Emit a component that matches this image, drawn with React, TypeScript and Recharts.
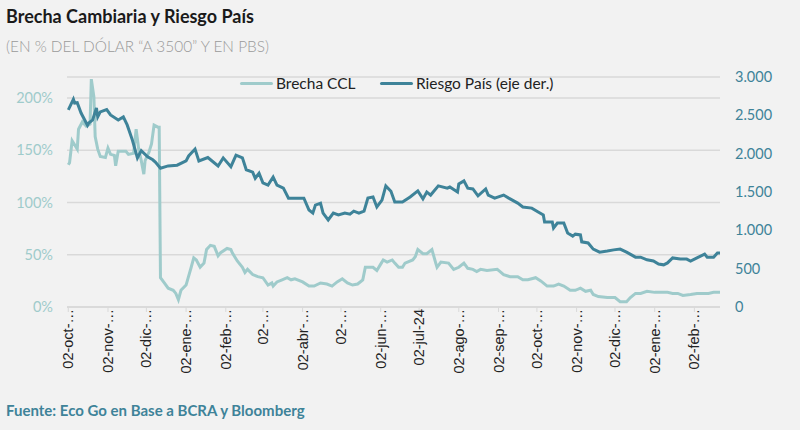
import { LineChart, Line, XAxis, YAxis, CartesianGrid } from "recharts";

// días desde el 02-oct-2023
const diasCCL = [
  0, 1, 3, 6, 7, 8, 11, 14, 17, 18, 20, 21, 23, 25, 29, 31, 33, 36, 37, 39,
  45, 47, 51, 53, 55, 57, 59, 60, 63, 65, 67, 70, 71, 72, 75, 78, 82, 84, 86, 88,
  92, 96, 98, 100, 103, 106, 108, 111, 114, 117, 119, 124, 127, 128, 132, 136, 138, 140, 144, 148,
  152, 156, 159, 160, 163, 167, 171, 174, 177, 183, 188, 192, 197, 202, 206, 210, 214, 218, 222, 226,
  230, 232, 234, 238, 241, 244, 246, 249, 253, 255, 258, 261, 263, 269, 271, 273, 277, 280, 284, 287,
  288, 291, 297, 301, 305, 309, 312, 316, 319, 322, 327, 335, 337, 340, 345, 351, 355, 359, 365, 369,
  374, 379, 383, 387, 392, 396, 400, 404, 408, 410, 414, 421, 427, 431, 436, 439, 443, 447, 452, 458,
  464, 468, 472, 476, 480, 486, 491, 496, 500, 504, 509,
];
// brecha CCL, en %
const brechaCCL = [
  136, 138, 159, 153, 151, 170, 177, 173, 175, 218, 201, 163, 151, 144, 143, 152, 146, 145, 135, 149,
  149, 146, 147, 170, 151, 140, 127, 140, 148, 156, 174, 172, 172, 28, 23, 18, 16, 13, 7, 16,
  21, 38, 47, 45, 38, 42, 55, 59, 58, 49, 52, 56, 55, 52, 44, 38, 33, 36, 31, 29,
  28, 21, 23, 20, 24, 26, 28, 26, 27, 24, 20, 20, 23, 22, 20, 24, 27, 23, 21, 22,
  26, 38, 38, 38, 35, 41, 45, 43, 45, 42, 38, 38, 42, 45, 48, 55, 51, 51, 55, 42,
  38, 43, 42, 36, 38, 42, 37, 36, 34, 36, 35, 36, 34, 31, 29, 29, 26, 26, 28, 25,
  20, 20, 22, 20, 16, 16, 18, 15, 16, 12, 10, 9, 9, 5, 5, 9, 13, 13, 15, 14,
  14, 14, 13, 13, 11, 12, 13, 13, 13, 14, 14,
];

const diasRiesgo = [
  0, 4, 5, 7, 10, 15, 16, 19, 22, 23, 25, 30, 33, 39, 43, 46, 50, 54, 57, 62,
  66, 68, 72, 78, 85, 92, 94, 99, 102, 109, 117, 121, 127, 131, 136, 139, 144, 146, 149, 152,
  156, 160, 163, 168, 172, 184, 188, 191, 193, 197, 199, 203, 207, 211, 216, 220, 223, 227, 231, 234,
  238, 241, 245, 248, 252, 255, 261, 267, 273, 277, 280, 283, 289, 296, 298, 304, 305, 309, 312, 316,
  320, 326, 328, 333, 340, 344, 351, 355, 362, 367, 371, 372, 378, 379, 382, 387, 390, 394, 396, 400,
  401, 406, 410, 415, 421, 426, 431, 436, 443, 447, 452, 457, 461, 465, 468, 472, 478, 483, 486, 491,
  497, 499, 504, 507, 509,
];
// riesgo país, en pbs
const riesgoPais = [
  2570, 2710, 2660, 2665, 2530, 2370, 2400, 2440, 2595, 2480, 2545, 2575, 2505, 2440, 2480, 2375, 2180, 1945, 2040, 1960,
  1920, 1890, 1810, 1840, 1850, 1905, 1970, 2060, 1905, 1950, 1840, 1945, 1830, 1980, 1945, 1790, 1760, 1680, 1745, 1620,
  1590, 1695, 1590, 1550, 1420, 1420, 1265, 1225, 1330, 1355, 1225, 1135, 1225, 1200, 1225, 1210, 1250, 1225, 1250, 1420,
  1435, 1305, 1395, 1580, 1510, 1370, 1370, 1435, 1515, 1410, 1500, 1460, 1580, 1550, 1565, 1500, 1605, 1645, 1550, 1540,
  1450, 1540, 1460, 1420, 1460, 1420, 1355, 1305, 1290, 1240, 1200, 1110, 1110, 1030, 1095, 1095, 965, 925, 950, 940,
  850, 835, 755, 715, 730, 745, 755, 715, 650, 650, 615, 600, 560, 550, 575, 640, 625, 625, 600, 640,
  690, 650, 650, 705, 705,
];

const mesesDias = [0, 31, 61, 92, 123, 152, 183, 213, 244, 274, 305, 336, 366, 397, 427, 458, 489];
const mesesLabels = [
  "02-oct-…", "02-nov-…", "02-dic-…", "02-ene-…", "02-feb-…", "02-…", "02-abr-…", "02-…",
  "02-jun-…", "02-jul-24", "02-ago-…", "02-sep-…", "02-oct-…", "02-nov-…", "02-dic-…", "02-ene-…", "02-feb-…",
];

const ticksIzq = [0, 0.5, 1, 1.5, 2];
const ticksDer = [0, 500, 1000, 1500, 2000, 2500, 3000];

const CLARO = "#9fcbcb";
const OSCURO = "#3e8399";

const cclData = diasCCL.map((d, i) => ({ dia: d, brecha: brechaCCL[i] / 100 }));
const riesgoData = diasRiesgo.map((d, i) => ({ dia: d, riesgo: riesgoPais[i] }));

function MesTick({ x, y, payload }: any) {
  const i = mesesDias.indexOf(payload.value);
  return (
    <text
      x={x}
      y={y - 3}
      dy="0.35em"
      transform={`rotate(-90 ${x} ${y - 3})`}
      textAnchor="end"
      fill="#222"
      fontSize={14.5}
      fontFamily="Liberation Sans, Arial, sans-serif"
    >
      {mesesLabels[i]}
    </text>
  );
}

const fmtMiles = (v: number) => v.toLocaleString("es-AR");

export default function App() {
  return (
    <div
      style={{
        position: "absolute",
        left: 0,
        top: 0,
        width: 800,
        height: 430,
        background: "#f2f2f2",
        fontFamily: "Lato, sans-serif",
      }}
    >
      <div style={{ position: "absolute", left: 6, top: 5, fontSize: 18, fontWeight: 700, color: "#1a1a1a" }}>
        Brecha Cambiaria y Riesgo País
      </div>
      <div style={{ position: "absolute", left: 6, top: 37, fontSize: 15.4, fontWeight: 300, color: "#9a9a9a" }}>
        (EN % DEL DÓLAR “A 3500” Y EN PBS)
      </div>
      <div
        style={{
          position: "absolute",
          left: 240,
          top: 74,
          display: "flex",
          alignItems: "center",
          fontSize: 15.5,
          color: "#222",
          whiteSpace: "nowrap",
        }}
      >
        <span style={{ width: 33, height: 3, background: CLARO, borderRadius: 2, marginRight: 3 }} />
        <span style={{ width: 104 }}>Brecha CCL</span>
        <span style={{ width: 33, height: 3, background: OSCURO, borderRadius: 2, marginRight: 3 }} />
        <span>Riesgo País (eje der.)</span>
      </div>
      <div
        style={{
          position: "absolute",
          left: 6,
          top: 401,
          fontSize: 15,
          fontWeight: 700,
          color: OSCURO,
        }}
      >
        Fuente: Eco Go en Base a BCRA y Bloomberg
      </div>
      <div style={{ position: "absolute", left: 0, top: 0 }}>
        <LineChart width={800} height={430} margin={{ top: 77, right: 0, bottom: 33, left: 0 }}>
          <CartesianGrid yAxisId="izq" vertical={false} stroke="#d9d9d9" strokeWidth={1.5} />
          <XAxis
            type="number"
            dataKey="dia"
            domain={[-1, 509]}
            ticks={mesesDias}
            interval={0}
            height={90}
            tick={<MesTick />}
            tickSize={5}
            tickMargin={0}
            tickLine={{ stroke: "#d9d9d9" }}
            axisLine={{ stroke: "#d9d9d9", strokeWidth: 1.5 }}
            allowDataOverflow
          />
          <YAxis
            yAxisId="izq"
            orientation="left"
            width={67}
            domain={[0, 2.2]}
            ticks={ticksIzq}
            tickFormatter={(v: number) => `${Math.round(v * 100)}%`}
            tick={{ fill: CLARO, fontSize: 14.5, fontFamily: "Lato, sans-serif" }}
            axisLine={false}
            tickLine={false}
            tickSize={0}
            tickMargin={14}
          />
          <YAxis
            yAxisId="der"
            orientation="right"
            width={80}
            domain={[0, 3000]}
            ticks={ticksDer}
            tickFormatter={fmtMiles}
            tick={{ fill: OSCURO, fontSize: 14.5, fontFamily: "Lato, sans-serif", textAnchor: "start" }}
            axisLine={false}
            tickLine={false}
            tickSize={0}
            tickMargin={15}
          />
          <Line
            yAxisId="izq"
            data={cclData}
            dataKey="brecha"
            type="linear"
            stroke={CLARO}
            strokeWidth={3}
            dot={false}
            isAnimationActive={false}
          />
          <Line
            yAxisId="der"
            data={riesgoData}
            dataKey="riesgo"
            type="linear"
            stroke={OSCURO}
            strokeWidth={3}
            dot={false}
            isAnimationActive={false}
          />
        </LineChart>
      </div>
    </div>
  );
}
